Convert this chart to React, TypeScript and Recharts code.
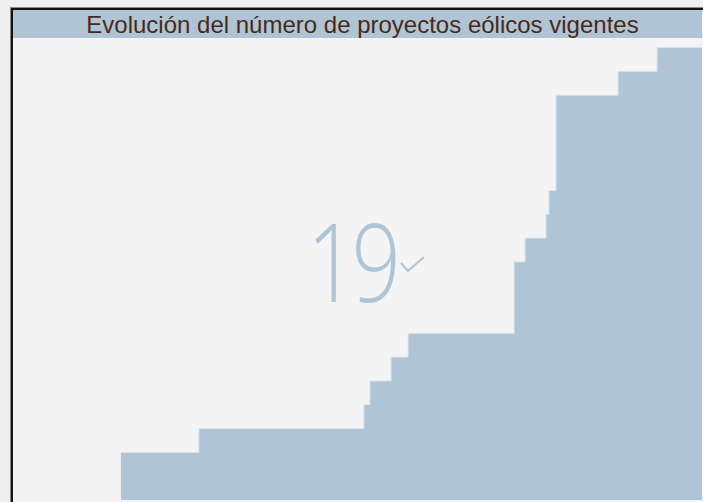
import { AreaChart, Area, XAxis, YAxis } from "recharts";

// Fechas en las que cambia el número de proyectos vigentes
const fechas = [
  "2011-07-27", "2012-09-12", "2015-02-04", "2015-03-08", "2015-06-28",
  "2015-09-26", "2017-04-10", "2017-06-07", "2017-09-26", "2017-10-12",
  "2017-11-18", "2018-10-13", "2019-05-08", "2020-01-01",
];
const proyectos = [2, 3, 4, 5, 6, 7, 10, 11, 12, 13, 17, 18, 19, 19];
const totalVigentes = 19;
const titulo = "Evolución del número de proyectos eólicos vigentes";

const data = fechas.map((f, i) => ({ t: new Date(f).getTime(), n: proyectos[i] }));
const inicio = new Date("2010-01-01").getTime();
const fin = new Date("2020-01-01").getTime();

const BLUE = "#afc5d5";

export default function App() {
  return (
    <div style={{ position: "fixed", left: 0, top: 0, width: 703, height: 502, background: "#efefef", overflow: "hidden" }}>
      <div
        style={{
          position: "absolute", left: 10, top: 7, width: 700, height: 500,
          borderTop: "1px solid #8a8a8a", borderLeft: "1px solid #8a8a8a",
        }}
      >
        <div
          style={{
            position: "absolute", left: 0, top: 0, right: 0, bottom: 0,
            borderTop: "2px solid #141414", borderLeft: "2px solid #141414",
            background: "#f4f4f4",
          }}
        >
          <div
            style={{
              width: 689, height: 28, background: BLUE, color: "#4b2916",
              fontFamily: "'Liberation Sans', Arial, sans-serif", fontSize: 24,
              lineHeight: "29px", textAlign: "center", paddingLeft: 10, boxSizing: "border-box",
            }}
          >
            {titulo}
          </div>
          <AreaChart width={689} height={462} data={data} margin={{ top: 0, right: 0, bottom: 0, left: 0 }}>
            <XAxis dataKey="t" type="number" domain={[inicio, fin]} hide />
            <YAxis type="number" domain={[0, 19.4]} hide />
            <Area
              type="stepAfter"
              dataKey="n"
              stroke="#dbe4eb"
              strokeWidth={1}
              fill={BLUE}
              fillOpacity={1}
              isAnimationActive={false}
            />
          </AreaChart>
        </div>
      </div>
      <svg width={703} height={502} style={{ position: "absolute", left: 0, top: 0, pointerEvents: "none" }}>
        <text
          transform="translate(307,302) scale(0.8,1)"
          fill={BLUE}
          fontFamily="'Open Sans', sans-serif"
          fontWeight={300}
          fontSize={108}
          letterSpacing={-6}
        >
          {totalVigentes}
        </text>
        <polyline points="401,263 408,271 424,257" fill="none" stroke={BLUE} strokeWidth={2} />
      </svg>
    </div>
  );
}
